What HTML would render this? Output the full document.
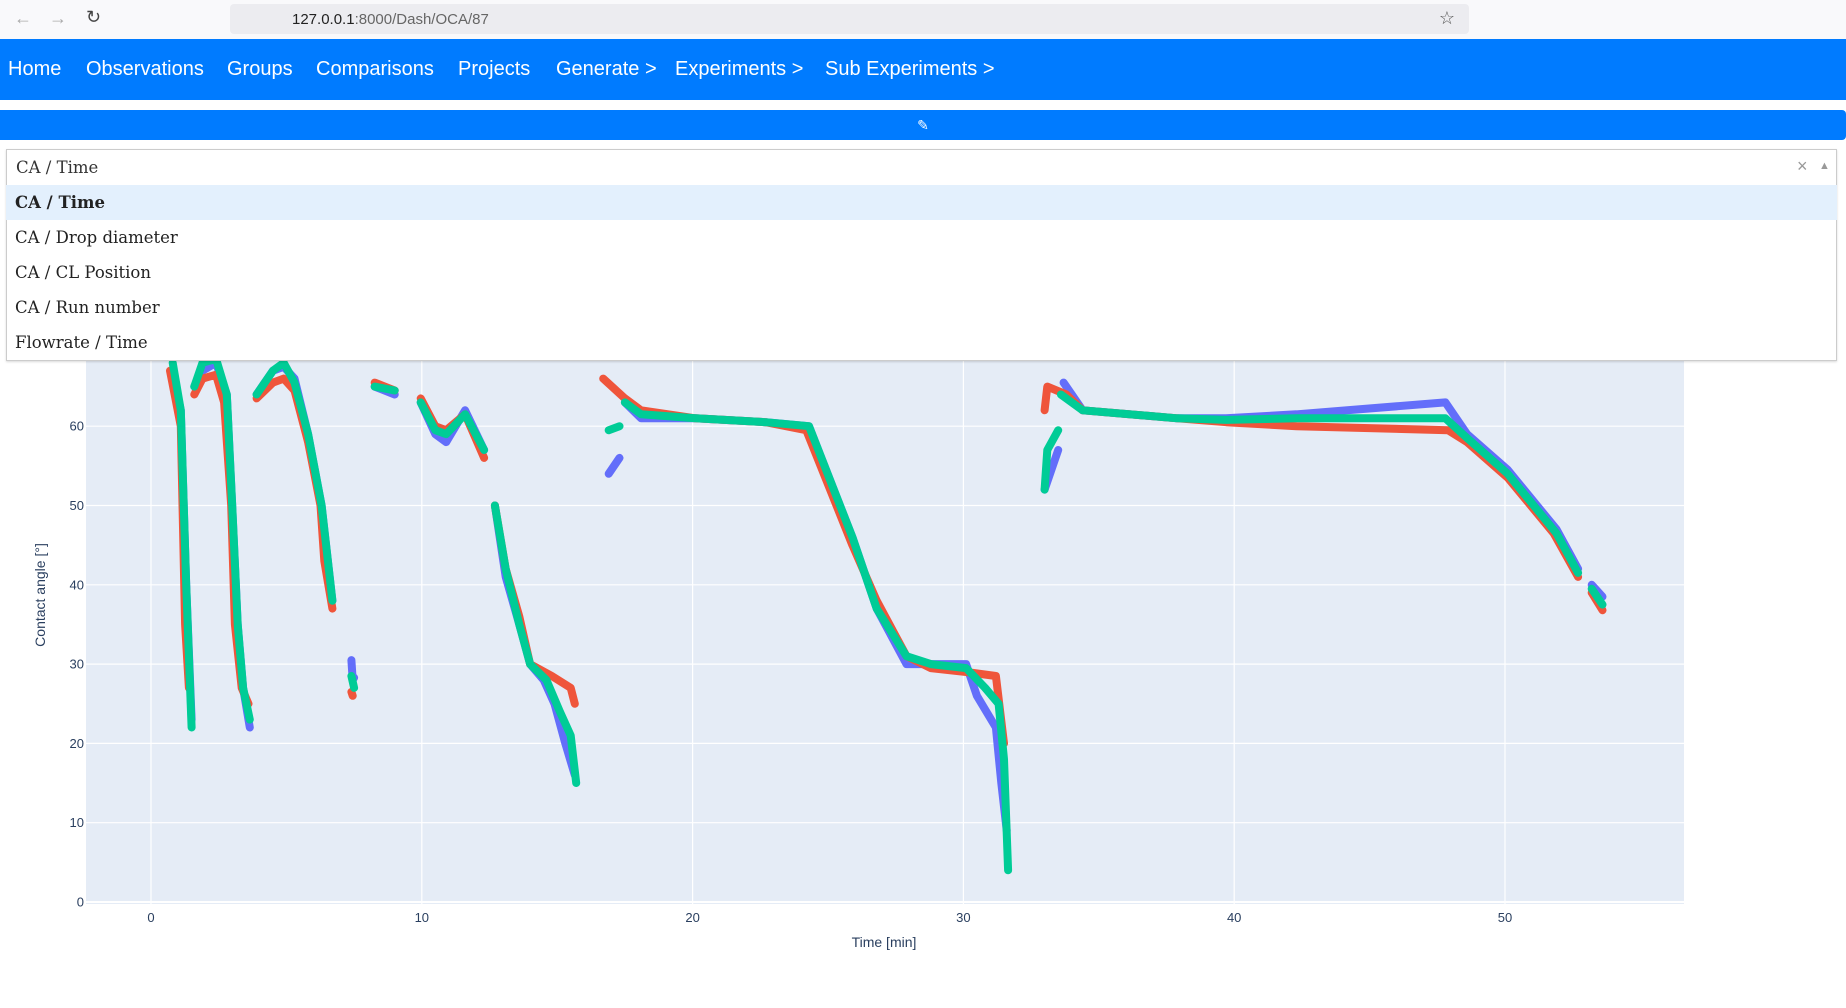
<!DOCTYPE html>
<html><head><meta charset="utf-8"><style>
body{margin:0;width:1846px;height:1008px;overflow:hidden;background:#fff;font-family:"Liberation Sans",sans-serif;position:relative}
.abs{position:absolute}
.nav a{position:absolute;top:57px;color:#fff;font-size:20px;text-decoration:none}
.opt{position:absolute;left:6px;width:1831px;height:35px;font-family:"DejaVu Serif",serif;font-size:16.5px;line-height:35px;color:#222;text-indent:9px}
</style></head><body>
<div class="abs" style="left:0;top:0;width:1846px;height:39px;background:#f9f9fb;border-bottom:1px solid #ddd">
 <span class="abs" style="left:14px;top:8px;color:#aaa;font-size:18px">←</span>
 <span class="abs" style="left:49px;top:8px;color:#aaa;font-size:18px">→</span>
 <span class="abs" style="left:86px;top:7px;color:#444;font-size:18px">↻</span>
 <div class="abs" style="left:230px;top:4px;width:1239px;height:30px;background:#ececf0;border-radius:4px">
  <span class="abs" style="left:62px;top:7px;font-size:15px;color:#222">127.0.0.1<span style="color:#666">:8000/Dash/OCA/87</span></span>
  <span class="abs" style="right:14px;top:4px;font-size:18px;color:#555">☆</span>
 </div>
</div>
<div class="abs nav" style="left:0;top:39px;width:1846px;height:61px;background:#007bff">
 <a style="left:8px;top:19px">Home</a>
 <a style="left:86px;top:19px">Observations</a>
 <a style="left:227px;top:19px">Groups</a>
 <a style="left:316px;top:19px">Comparisons</a>
 <a style="left:458px;top:19px">Projects</a>
 <a style="left:556px;top:19px">Generate &gt;</a>
 <a style="left:675px;top:19px">Experiments &gt;</a>
 <a style="left:825px;top:19px">Sub Experiments &gt;</a>
</div>
<div class="abs" style="left:0;top:110px;width:1846px;height:30px;background:#007bff;border-radius:0 4px 4px 0;color:#fff;text-align:center;line-height:30px;font-size:14px">✎</div>

<svg class="abs" style="left:0;top:0" width="1846" height="1008" id="chart"></svg>

<div class="abs" style="left:6px;top:149px;width:1829px;height:210px;border:1px solid #ccc;background:#fff;box-shadow:0 1px 2px rgba(0,0,0,.15)">
 <span class="abs" style="left:9px;top:8px;font-family:'DejaVu Serif',serif;font-size:16.5px;color:#333">CA / Time</span>
 <span class="abs" style="left:1790px;top:6px;color:#999;font-size:18px">×</span>
 <span class="abs" style="left:1812px;top:10px;color:#999;font-size:11px">▲</span>
 <div class="abs" style="left:0;top:35px;width:1829px;border-top:1px solid #e6e6e6"></div>
</div>
<div class="opt" style="top:185px;background:#e3f0fd;font-weight:bold">CA / Time</div>
<div class="opt" style="top:220px">CA / Drop diameter</div>
<div class="opt" style="top:255px">CA / CL Position</div>
<div class="opt" style="top:290px">CA / Run number</div>
<div class="opt" style="top:325px">Flowrate / Time</div>

<script>
const xTicks=[0,10,20,30,40,50];
const yTicks=[0,10,20,30,40,50,60];
const blueT=[0.8,1.1,1.3,1.5,null,1.6,1.9,2.4,2.8,3.0,3.2,3.4,3.65,null,3.9,4.5,4.9,5.3,5.8,6.3,6.5,6.7,null,7.4,7.45,7.5,null,8.26,9.0,null,9.96,10.5,10.9,11.6,12.3,null,12.7,13.1,13.6,14.0,14.5,14.9,15.3,15.65,null,16.9,17.3,null,17.5,18.1,20.1,22.7,24.3,25.9,26.8,27.9,28.8,30.1,30.5,31.2,31.4,31.6,null,33.0,33.5,null,33.7,34.4,37.9,39.7,42.3,47.8,48.6,50.1,51.9,52.7,null,53.2,53.6];
const blueV=[67,62,40,23,null,65,67,68,64,50,35,27,22,null,64,67,67.5,66,59,50,44,38,null,30.5,28,28.3,null,65,64,null,63,59,58,62,57,null,50,41,35,30,28,25,20,16,null,54,56,null,63,61,61,60.5,60,46,37,30,30,30,26,22,15,9,null,52,57,null,65.5,62,61,61,61.5,63,59,54.5,47,42,null,40,38.5];
const redT=[0.7,1.1,1.26,1.4,null,1.6,1.9,2.4,2.7,2.96,3.1,3.35,3.6,null,3.9,4.5,4.9,5.3,5.8,6.26,6.4,6.7,null,7.4,7.45,null,8.26,9.0,null,9.96,10.5,10.9,11.6,12.3,null,12.7,13.1,13.6,14.0,14.8,15.5,15.65,null,16.7,17.5,18.1,20.1,22.7,24.2,25.9,26.8,27.9,28.8,30.1,31.2,31.5,null,33.0,33.1,33.8,34.4,37.9,39.7,42.3,47.9,48.6,50.1,51.8,52.7,null,53.2,53.6];
const redV=[67,60,35,27,null,64,66,66.5,63,50,35,27,25,null,63.5,65.5,66,64.5,58,50,43,37,null,26.5,26,null,65.5,64.5,null,63.5,60,59.5,61.5,56,null,50,42,36,30,28.5,27,25,null,66,63.5,62,61,60.5,59.5,45,38,31,29.5,29,28.5,20,null,62,65,64,62,61,60.5,60,59.5,58,53.5,46.5,41,null,39,36.8];
const greenT=[0.8,1.1,1.3,1.5,null,1.6,1.9,2.4,2.8,3.0,3.2,3.4,3.65,null,3.9,4.5,4.9,5.3,5.8,6.3,6.5,6.7,null,7.4,7.5,null,8.26,9.0,null,9.96,10.5,10.9,11.6,12.3,null,12.7,13.1,13.6,14.0,14.6,15.1,15.5,15.7,null,16.9,17.3,null,17.5,18.1,20.1,22.7,24.3,25.9,26.8,27.9,28.8,30.1,30.8,31.3,31.5,31.65,null,33.0,33.1,33.5,null,33.6,34.4,37.9,39.7,42.3,47.8,48.6,50.1,51.9,52.7,null,53.2,53.6];
const greenV=[68,62,40,22,null,65,68,68.5,64,50,35,27,23,null,64,67,68,65.5,59,50,44,38,null,28.5,27,null,65,64.5,null,63,59.5,59,61.5,57,null,50,42,35,30,28,24,21,15,null,59.5,60,null,63,61.5,61,60.5,60,46,37,31,30,29.5,27,25,18,4,null,52,57,59.5,null,64,62,61,60.8,61,61,58.5,54,46.5,41.5,null,39.5,37.5];

const svg=document.getElementById('chart');const NS='http://www.w3.org/2000/svg';
const X0=86,X1=1684,Y0=340,Y1=904;
const xs=t=>151+t*27.08, ys=v=>902-v*7.93;
function mk(tag,attrs,parent){const e=document.createElementNS(NS,tag);for(const k in attrs)e.setAttribute(k,attrs[k]);(parent||svg).appendChild(e);return e;}
const bg=mk('rect',{x:X0,y:Y0,width:X1-X0,height:Y1-Y0,fill:'#e5ecf6'});


xTicks.forEach(t=>{const l=mk('line',{x1:xs(t),x2:xs(t),y1:Y0,y2:Y1,stroke:'#fff','stroke-width':1.2});


const tx=mk('text',{x:xs(t),y:922,'text-anchor':'middle','font-size':13,fill:'#2a3f5f','font-family':'Liberation Sans, sans-serif'});tx.textContent=t;

});
yTicks.forEach(v=>{const l=mk('line',{x1:X0,x2:X1,y1:ys(v),y2:ys(v),stroke:'#fff','stroke-width':v===0?2:1.2});


const tx=mk('text',{x:X0-2,y:ys(v)+4.5,'text-anchor':'end','font-size':13,fill:'#2a3f5f','font-family':'Liberation Sans, sans-serif'});tx.textContent=v;

});
function series(T,V,color,name){let d='';let pen=false;
 for(let i=0;i<T.length;i++){if(T[i]===null){pen=false;continue;}
  d+=(pen?'L':'M')+xs(T[i]).toFixed(1)+' '+ys(V[i]).toFixed(1)+' ';pen=true;}
 const p=mk('path',{d:d,fill:'none',stroke:color,'stroke-width':8,'stroke-linecap':'round','stroke-linejoin':'round'});
 
 }
series(blueT,blueV,'#636efa','series-blue');
series(redT,redV,'#ef553b','series-red');
series(greenT,greenV,'#00cc96','series-green');
const xt=mk('text',{x:884,y:947,'text-anchor':'middle','font-size':14,fill:'#2a3f5f','font-family':'Liberation Sans, sans-serif'});xt.textContent='Time [min]';


const yt=mk('text',{x:0,y:0,'text-anchor':'middle','font-size':14,fill:'#2a3f5f','font-family':'Liberation Sans, sans-serif',transform:'translate(45,595) rotate(-90)'});yt.textContent='Contact angle [°]';


</script>
</body></html>
